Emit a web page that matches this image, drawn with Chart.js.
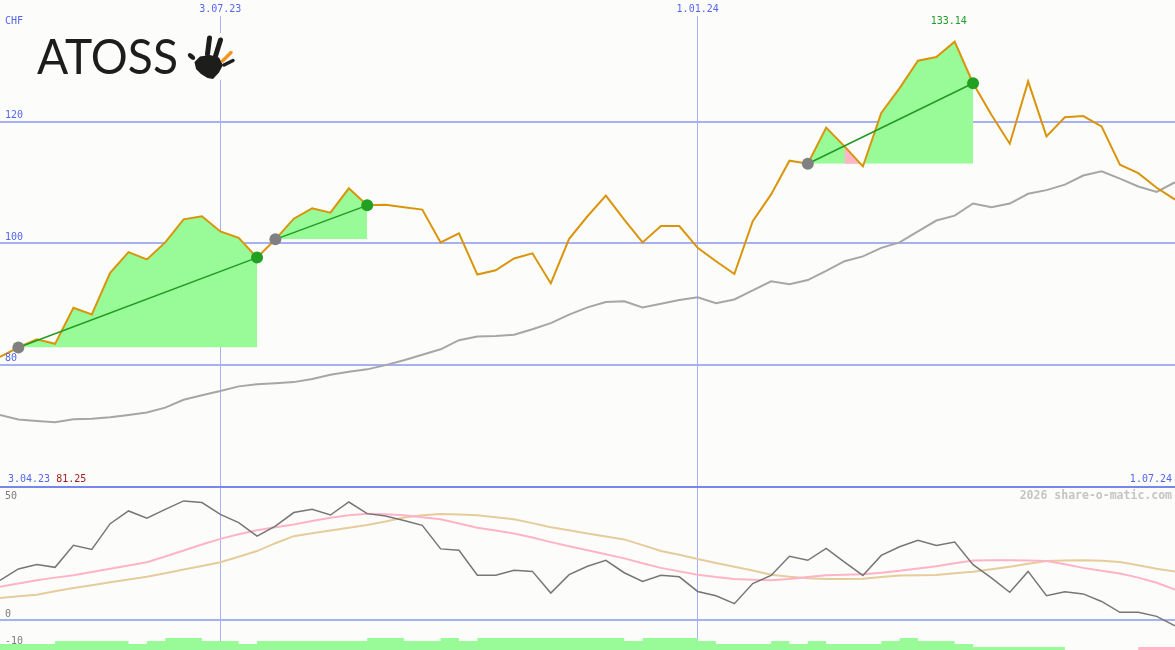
<!DOCTYPE html>
<html>
<head>
<meta charset="utf-8">
<title>ATOSS</title>
<script src="https://cdn.jsdelivr.net/npm/chart.js@4.4.1/dist/chart.umd.min.js"></script>
<style>
    html, body { margin: 0; padding: 0; background: #fcfdfb; }
    #wrap { position: relative; width: 1175px; height: 650px; overflow: hidden; }
    #priceCanvas { position: absolute; left: 0; top: 0; }
    #indCanvas { position: absolute; left: 0; top: 486px; }
</style>
</head>
<body>
<div id="wrap">
    <canvas id="priceCanvas" width="1175" height="486"></canvas>
    <canvas id="indCanvas" width="1175" height="164"></canvas>
</div>
<script>
// weekly closes, CHF
const closes = [81.25, 82.8, 84.15, 83.4, 89.35, 88.25, 95.1, 98.5, 97.3, 100.1,
    103.9, 104.4, 101.9, 100.85, 97.6, 100.6, 104.0, 105.7, 105.0, 109.0,
    106.2, 106.3, 105.9, 105.5, 100.1, 101.6, 94.8, 95.5, 97.45, 98.3,
    93.35, 100.7, 104.4, 107.8, 103.85, 100.1, 102.8, 102.8, 99.2, 97.0,
    94.9, 103.6, 108.0, 113.55, 113.05, 119.0, 115.9, 112.6, 121.4, 125.5,
    130.0, 130.6, 133.14, 126.3, 121.1, 116.35, 126.6, 117.55, 120.7, 120.9,
    119.2, 112.9, 111.5, 109.1, 107.15];
// long moving average
const avgLong = [71.7, 70.96, 70.7, 70.5, 71.0, 71.06, 71.3, 71.7, 72.1, 72.9,
    74.2, 74.95, 75.65, 76.4, 76.75, 76.9, 77.1, 77.6, 78.3, 78.8,
    79.2, 79.9, 80.7, 81.6, 82.5, 84.0, 84.6, 84.7, 84.9, 85.8,
    86.8, 88.2, 89.4, 90.3, 90.4, 89.4, 90.0, 90.6, 91.05, 90.1,
    90.7, 92.2, 93.7, 93.2, 93.9, 95.4, 97.0, 97.8, 99.2, 100.1,
    101.9, 103.7, 104.5, 106.5, 105.9, 106.5, 108.1, 108.7, 109.6, 111.1,
    111.8, 110.6, 109.3, 108.4, 110.0];
// lower panel
const indMain = [14.8, 19.0, 20.6, 19.6, 27.7, 26.2, 35.7, 40.4, 37.7, 41.0,
    44.1, 43.5, 39.1, 36.1, 31.1, 34.8, 39.8, 41.0, 38.9, 43.7,
    39.4, 38.5, 36.9, 35.1, 26.4, 25.9, 16.7, 16.7, 18.5, 18.1,
    10.1, 16.9, 20.0, 22.2, 17.6, 14.4, 16.7, 16.1, 10.7, 9.1,
    6.2, 13.6, 16.6, 23.7, 22.2, 26.6, 21.5, 16.6, 24.0, 27.2,
    29.6, 27.7, 28.9, 20.6, 15.7, 10.4, 18.1, 9.1, 10.6, 9.8,
    7.0, 3.0, 3.0, 1.5, -2.0];
const indFast = [12.4, 13.6, 14.8, 15.8, 16.7, 17.9, 19.1, 20.3, 21.5, 23.6,
    25.8, 28.0, 30.1, 31.8, 33.3, 34.4, 35.4, 36.7, 37.9, 38.8,
    39.4, 39.2, 38.8, 38.1, 37.3, 35.8, 34.2, 33.2, 32.1, 30.6,
    28.9, 27.4, 25.9, 24.4, 22.9, 21.1, 19.4, 18.1, 16.9, 16.0,
    15.3, 15.0, 14.8, 15.3, 16.0, 16.7, 16.9, 17.0, 17.6, 18.3,
    19.2, 20.0, 21.1, 22.1, 22.2, 22.2, 22.1, 21.9, 20.7, 19.4,
    18.3, 17.3, 15.8, 13.9, 11.4];
const indSlow = [8.3, 8.9, 9.5, 10.8, 12.0, 13.0, 14.1, 15.1, 16.1, 17.4,
    18.8, 20.1, 21.5, 23.5, 25.6, 28.5, 31.1, 32.2, 33.2, 34.2,
    35.2, 36.5, 38.0, 38.8, 39.3, 39.1, 38.8, 38.1, 37.3, 35.9,
    34.4, 33.3, 32.1, 31.0, 29.9, 27.8, 25.6, 24.2, 22.7, 21.2,
    19.8, 18.4, 16.9, 16.1, 15.6, 15.3, 15.3, 15.4, 16.0, 16.6,
    16.7, 16.8, 17.4, 18.0, 18.9, 19.8, 20.9, 21.9, 22.1, 22.2,
    22.0, 21.6, 20.4, 19.1, 18.1];
const histUp = [2, 2, 2, 3, 3, 3, 3, 2, 3, 4, 4, 3, 3, 2, 3, 3, 3, 3, 3, 3,
    4, 4, 3, 3, 4, 3, 4, 4, 4, 4, 4, 4, 4, 4, 3, 4, 4, 4, 3, 2,
    2, 2, 3, 2, 3, 2, 2, 2, 3, 4, 3, 3, 2, 1, 1, 1, 1, 1, 0, 0,
    0, 0, 0, 0, 0];
const histDown = [0, 0, 0, 0, 0, 0, 0, 0, 0, 0, 0, 0, 0, 0, 0, 0, 0, 0, 0, 0,
    0, 0, 0, 0, 0, 0, 0, 0, 0, 0, 0, 0, 0, 0, 0, 0, 0, 0, 0, 0,
    0, 0, 0, 0, 0, 0, 0, 0, 0, 0, 0, 0, 0, 0, 0, 0, 0, 0, 0, 0,
    0, 0, 1, 1, 1];

// trend signals (week index)
const sigStart = [1, 15, 44];
const sigEnd = [14, 20, 53];

const priceGrid = [120, 100, 80];
const indTicks = [50, 0, -10];
const indGrid = [0];
const markIdx = [12, 38];
const markText = ['3.07.23', '1.01.24'];
const firstDate = '3.04.23';
const lastDate = '1.07.24';

const weeks = closes.map(function (v, i) { return i; });

const bg = '#fcfdfb';
const gridBlue = '#a6b1f1';
const labelBlue = '#5466ee';
const mono = '10px "DejaVu Sans Mono"';

function drawLogo(c) {
    c.save();
    c.fillStyle = bg;
    c.fillRect(184, 33, 56, 47);
    c.fillStyle = '#1d1d1b';
    c.font = '400 48px Lato';
    c.textBaseline = 'alphabetic';
    let w = c.measureText('ATOSS').width;
    c.save();
    c.translate(37, 74);
    c.scale(141 / w, 1);
    c.fillText('ATOSS', 0, 0);
    c.restore();

    // hand
    c.beginPath();
    c.moveTo(194.5, 62);
    c.lineTo(200, 56.5);
    c.lineTo(210, 55);
    c.lineTo(219, 57.5);
    c.lineTo(223, 65);
    c.lineTo(219, 72.5);
    c.lineTo(213, 79);
    c.lineTo(207.5, 78);
    c.lineTo(201, 74);
    c.lineTo(196, 69);
    c.closePath();
    c.fill();
    c.beginPath();
    c.ellipse(191.5, 56.5, 4.2, 2.4, 0.7, 0, Math.PI * 2);
    c.fill();
    c.lineCap = 'round';
    c.strokeStyle = '#1d1d1b';
    c.lineWidth = 5;
    c.beginPath(); c.moveTo(209.5, 38); c.lineTo(207.5, 54); c.stroke();
    c.beginPath(); c.moveTo(220.5, 40); c.lineTo(215.5, 56); c.stroke();
    c.lineWidth = 3.5;
    c.beginPath(); c.moveTo(233, 60.5); c.lineTo(224, 65); c.stroke();
    c.strokeStyle = '#f39322';
    c.beginPath(); c.moveTo(231, 52.5); c.lineTo(222.5, 61); c.stroke();
    c.restore();
}

const priceDecor = {
    id: 'priceDecor',
    beforeDatasetsDraw: function (chart) {
        let c = chart.ctx, xs = chart.scales.x, ys = chart.scales.y;
        c.save();
        c.strokeStyle = gridBlue;
        c.lineWidth = 2;
        priceGrid.forEach(function (v) {
            let y = Math.round(ys.getPixelForValue(v));
            c.beginPath(); c.moveTo(0, y); c.lineTo(chart.width, y); c.stroke();
        });
        c.lineWidth = 1;
        markIdx.forEach(function (i) {
            let x = Math.floor(xs.getPixelForValue(i)) + 0.5;
            c.beginPath(); c.moveTo(x, 16); c.lineTo(x, chart.height); c.stroke();
        });
        c.restore();
        drawLogo(c);
    },
    afterDraw: function (chart) {
        let c = chart.ctx, xs = chart.scales.x, ys = chart.scales.y;
        c.save();
        c.font = mono;
        c.textBaseline = 'middle';
        c.fillStyle = labelBlue;
        c.textAlign = 'left';
        c.fillText('CHF', 5, 21);
        priceGrid.forEach(function (v) {
            c.fillText(String(v), 5, ys.getPixelForValue(v) - 6);
        });
        c.textAlign = 'center';
        markIdx.forEach(function (i, k) {
            c.fillText(markText[k], xs.getPixelForValue(i), 9);
        });
        c.textAlign = 'left';
        c.fillText(firstDate, 8, 479);
        let off = c.measureText(firstDate + ' ').width;
        c.fillStyle = '#a31c1c';
        c.fillText(closes[0].toFixed(2), 8 + off, 479);
        c.fillStyle = labelBlue;
        c.textAlign = 'right';
        c.fillText(lastDate, 1172, 479);
        // highest close
        let hi = closes.indexOf(Math.max.apply(null, closes));
        c.fillStyle = '#22992a';
        c.textAlign = 'center';
        c.fillText(closes[hi].toFixed(2), xs.getPixelForValue(hi) - 6, ys.getPixelForValue(closes[hi]) - 20);
        c.restore();
    }
};

const indDecor = {
    id: 'indDecor',
    beforeDatasetsDraw: function (chart) {
        let c = chart.ctx, xs = chart.scales.x, ys = chart.scales.y;
        c.save();
        c.strokeStyle = gridBlue;
        c.lineWidth = 2;
        indGrid.forEach(function (v) {
            let y = Math.round(ys.getPixelForValue(v));
            c.beginPath(); c.moveTo(0, y); c.lineTo(chart.width, y); c.stroke();
        });
        c.lineWidth = 1;
        markIdx.forEach(function (i) {
            let x = Math.floor(xs.getPixelForValue(i)) + 0.5;
            c.beginPath(); c.moveTo(x, 0); c.lineTo(x, chart.height); c.stroke();
        });
        c.strokeStyle = '#7886ec';
        c.lineWidth = 2;
        c.beginPath(); c.moveTo(0, 1); c.lineTo(chart.width, 1); c.stroke();
        c.restore();
    },
    afterDraw: function (chart) {
        let c = chart.ctx, ys = chart.scales.y;
        c.save();
        c.font = mono;
        c.textBaseline = 'middle';
        c.textAlign = 'left';
        c.fillStyle = '#7a7a7a';
        indTicks.forEach(function (v, k) {
            let y = ys.getPixelForValue(v);
            c.fillText(String(v), 5, k === 0 ? y + 11 : y - 6);
        });
        c.font = 'bold 11.5px "DejaVu Sans Mono"';
        c.fillStyle = '#c4c4c4';
        c.textAlign = 'right';
        c.fillText('2026 share-o-matic.com', 1172, 10);
        c.restore();
    }
};

// main panel datasets
let priceSets = [];
sigStart.forEach(function (s, k) {
    let e = sigEnd[k];
    let base = closes[s];
    priceSets.push({
        data: closes.map(function (v, i) { return (i >= s && i <= e) ? v : null; }),
        borderWidth: 0,
        borderColor: 'rgba(0,0,0,0)',
        pointRadius: 0,
        fill: {target: {value: base}, above: '#98fb98', below: 'rgba(0,0,0,0)'},
        order: 10
    });
    for (let i = s; i < e; i++) {
        if (closes[i + 1] < base) {
            priceSets.push({
                data: closes.map(function (v, j) { return (j === i || j === i + 1) ? v : null; }),
                borderWidth: 0,
                borderColor: 'rgba(0,0,0,0)',
                pointRadius: 0,
                fill: {target: {value: base}, above: '#ffb6c6', below: '#ffb6c6'},
                order: 9
            });
        }
    }
    priceSets.push({
        data: closes.map(function (v, i) { return (i === s || i === e) ? v : null; }),
        spanGaps: true,
        borderColor: '#229a22',
        borderWidth: 1.5,
        pointRadius: 0,
        fill: false,
        order: 3
    });
});

let dotData = closes.map(function () { return null; });
let dotColor = closes.map(function () { return '#808080'; });
sigStart.forEach(function (s, k) {
    dotData[s] = closes[s];
    dotData[sigEnd[k]] = closes[sigEnd[k]];
    dotColor[sigEnd[k]] = '#22a022';
});

priceSets.push({
    data: avgLong,
    borderColor: '#a6a6a6',
    borderWidth: 2,
    pointRadius: 0,
    fill: false,
    order: 8
});
priceSets.push({
    data: closes,
    borderColor: '#d9940a',
    borderWidth: 2,
    pointRadius: 0,
    fill: false,
    order: 5
});
priceSets.push({
    data: dotData,
    showLine: false,
    pointRadius: 6,
    pointBorderWidth: 0,
    pointBackgroundColor: dotColor,
    order: 1
});

let baseOptions = {
    responsive: false,
    animation: false,
    devicePixelRatio: 1,
    events: [],
    layout: {padding: 0, autoPadding: false},
    plugins: {legend: {display: false}, tooltip: {enabled: false}},
    elements: {line: {tension: 0}}
};

new Chart(document.getElementById('priceCanvas').getContext('2d'), {
    type: 'line',
    data: {labels: weeks, datasets: priceSets},
    options: Object.assign({}, baseOptions, {
        scales: {
            x: {display: false, offset: false},
            y: {display: false, min: 60, max: 140}
        }
    }),
    plugins: [priceDecor]
});

new Chart(document.getElementById('indCanvas').getContext('2d'), {
    type: 'line',
    data: {
        labels: weeks,
        datasets: [
            {
                data: histUp, yAxisID: 'yh', stepped: true,
                borderWidth: 0, borderColor: 'rgba(0,0,0,0)', pointRadius: 0,
                fill: 'origin', backgroundColor: '#98fb98', order: 10
            },
            {
                data: histDown, yAxisID: 'yh', stepped: true,
                borderWidth: 0, borderColor: 'rgba(0,0,0,0)', pointRadius: 0,
                fill: 'origin', backgroundColor: '#ffb6c6', order: 10
            },
            {data: indSlow, borderColor: '#e6cb9b', borderWidth: 2, pointRadius: 0, fill: false, order: 6},
            {data: indFast, borderColor: '#ffb3c7', borderWidth: 2, pointRadius: 0, fill: false, order: 5},
            {data: indMain, borderColor: '#767676', borderWidth: 1.5, pointRadius: 0, fill: false, order: 3}
        ]
    },
    options: Object.assign({}, baseOptions, {
        scales: {
            x: {display: false, offset: false},
            y: {display: false, min: -10.9, max: 49.6},
            yh: {display: false, min: 0, max: 164 / 3}
        }
    }),
    plugins: [indDecor]
});
</script>
</body>
</html>
